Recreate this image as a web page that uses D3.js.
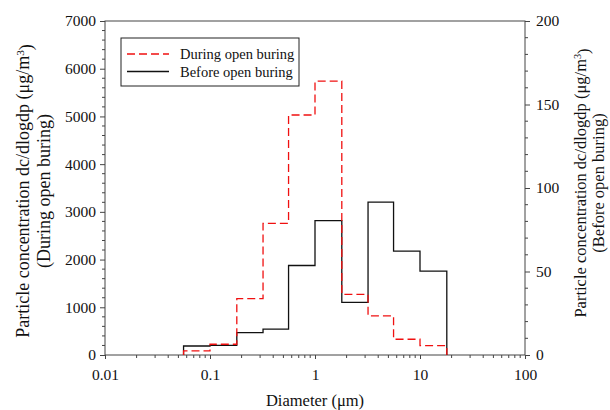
<!DOCTYPE html>
<html>
<head>
<meta charset="utf-8">
<script src="https://cdn.jsdelivr.net/npm/d3@7"></script>
<style>
  body { margin: 0; background: #fff; }
</style>
</head>
<body>
<div id="chart"></div>
<script>
// bin edges of the impactor stages (um)
var binEdges = [0.056, 0.1, 0.18, 0.32, 0.56, 1.0, 1.8, 3.2, 5.6, 10, 18];
// during open burning, left axis (ug/m3)
var duringValues = [85, 225, 1180, 2760, 5030, 5740, 1270, 820, 330, 195];
// before open burning, right axis (ug/m3)
var beforeValues = [5.4, 5.8, 13.4, 15.5, 53.6, 80.5, 31.5, 91.6, 62.2, 50.2];

var xTicks = [0.01, 0.1, 1, 10, 100];
var xTickLabels = ["0.01", "0.1", "1", "10", "100"];
var leftTicks = [0, 1000, 2000, 3000, 4000, 5000, 6000, 7000];
var rightTicks = [0, 50, 100, 150, 200];
var seriesNames = ["During open buring", "Before open buring"];

var W = 610, H = 410;
var margin = {top: 21, right: 85, bottom: 55, left: 105},
    width = W - margin.left - margin.right,
    height = H - margin.top - margin.bottom;

var serif = "'Liberation Serif', 'Times New Roman', serif";

var svg = d3.select("#chart").append("svg")
    .attr("width", W)
    .attr("height", H)
    .attr("font-family", serif);
var g = svg.append("g")
    .attr("transform", "translate(" + margin.left + "," + margin.top + ")");

var x = d3.scaleLog().domain([0.01, 100]).range([0, width]);
var yL = d3.scaleLinear().domain([0, 7000]).range([height, 0]);
var yR = d3.scaleLinear().domain([0, 200]).range([height, 0]);

var axisColor = "#444";

// frame
g.append("rect")
    .attr("width", width).attr("height", height)
    .attr("fill", "none").attr("stroke", axisColor).attr("stroke-width", 1);

// minor ticks
var xMinor = [];
[0.01, 0.1, 1, 10].forEach(function(d) {
  for (var k = 2; k <= 9; k++) xMinor.push(d * k);
});
g.selectAll(".xminor").data(xMinor).enter().append("line")
    .attr("x1", function(d) { return x(d); }).attr("x2", function(d) { return x(d); })
    .attr("y1", height).attr("y2", height + 3)
    .attr("stroke", axisColor);

var leftMinor = d3.range(0, 7001, 200).filter(function(d) { return d % 1000 != 0; });
g.selectAll(".lminor").data(leftMinor).enter().append("line")
    .attr("x1", -3).attr("x2", 0)
    .attr("y1", function(d) { return yL(d); }).attr("y2", function(d) { return yL(d); })
    .attr("stroke", axisColor);

var rightMinor = d3.range(0, 201, 10).filter(function(d) { return d % 50 != 0; });
g.selectAll(".rminor").data(rightMinor).enter().append("line")
    .attr("x1", width).attr("x2", width + 3)
    .attr("y1", function(d) { return yR(d); }).attr("y2", function(d) { return yR(d); })
    .attr("stroke", axisColor);

// axes
function styleAxis(sel) {
  sel.attr("font-family", serif).attr("font-size", 15.5);
  sel.select(".domain").remove();
  sel.selectAll(".tick line").attr("stroke", axisColor);
  sel.selectAll(".tick text").attr("fill", "#111");
}

g.append("g")
    .attr("transform", "translate(0," + height + ")")
    .call(d3.axisBottom(x).tickValues(xTicks)
        .tickFormat(function(d, i) { return xTickLabels[i]; })
        .tickSizeInner(4).tickSizeOuter(0).tickPadding(10))
    .call(styleAxis);

g.append("g")
    .call(d3.axisLeft(yL).tickValues(leftTicks).tickFormat(d3.format("d"))
        .tickSizeInner(5).tickSizeOuter(0).tickPadding(4))
    .call(styleAxis);

g.append("g")
    .attr("transform", "translate(" + width + ",0)")
    .call(d3.axisRight(yR).tickValues(rightTicks).tickFormat(d3.format("d"))
        .tickSizeInner(5).tickSizeOuter(0).tickPadding(6))
    .call(styleAxis);

// step outlines
function stepPoints(vals, yScale) {
  var pts = [[binEdges[0], 0]];
  vals.forEach(function(v, i) {
    pts.push([binEdges[i], v]);
    pts.push([binEdges[i + 1], v]);
  });
  pts.push([binEdges[binEdges.length - 1], 0]);
  return d3.line()
      .x(function(d) { return x(d[0]); })
      .y(function(d) { return yScale(d[1]); })(pts);
}

g.append("path")
    .attr("d", stepPoints(beforeValues, yR))
    .attr("fill", "none")
    .attr("stroke", "#111")
    .attr("stroke-width", 1.3);

g.append("path")
    .attr("d", stepPoints(duringValues, yL))
    .attr("fill", "none")
    .attr("stroke", "#f01010")
    .attr("stroke-width", 1.3)
    .attr("stroke-dasharray", "8,4");

// legend
var legend = g.append("g").attr("transform", "translate(16,17)");
legend.append("rect")
    .attr("width", 178).attr("height", 48)
    .attr("fill", "#fff").attr("stroke", "#222").attr("stroke-width", 1);
var items = legend.selectAll(".item").data(seriesNames).enter().append("g")
    .attr("transform", function(d, i) { return "translate(0," + (16 + i * 17.5) + ")"; });
items.append("line")
    .attr("x1", 6).attr("x2", 48)
    .attr("stroke", function(d, i) { return i == 0 ? "#f01010" : "#111"; })
    .attr("stroke-width", 1.3)
    .attr("stroke-dasharray", function(d, i) { return i == 0 ? "8,4" : null; });
items.append("text")
    .attr("x", 59).attr("dy", "0.35em")
    .attr("font-size", 14.5)
    .attr("fill", "#111")
    .text(function(d) { return d; });

// axis titles
g.append("text")
    .attr("x", width / 2).attr("y", height + 51)
    .attr("text-anchor", "middle")
    .attr("font-size", 16.5)
    .attr("fill", "#111")
    .text("Diameter (\u03bcm)");

function yTitle(xPos, line2, size, center, gap) {
  var t = svg.append("text")
      .attr("transform", "translate(" + xPos + "," + center + ") rotate(-90)")
      .attr("text-anchor", "middle")
      .attr("font-size", size)
      .attr("fill", "#111");
  t.append("tspan").attr("x", 0).attr("dy", "0").text("Particle concentration dc/dlogdp (\u03bcg/m");
  t.append("tspan").attr("dy", "-0.45em").attr("font-size", size * 0.62).text("3");
  t.append("tspan").attr("dy", "0.45em").text(")");
  t.append("tspan").attr("x", 0).attr("dy", gap).text(line2);
}
yTitle(29, "(During open buring)", 18, 191, 18);
yTitle(586, "(Before open buring)", 16.5, 183, 15.5);
</script>
</body>
</html>
